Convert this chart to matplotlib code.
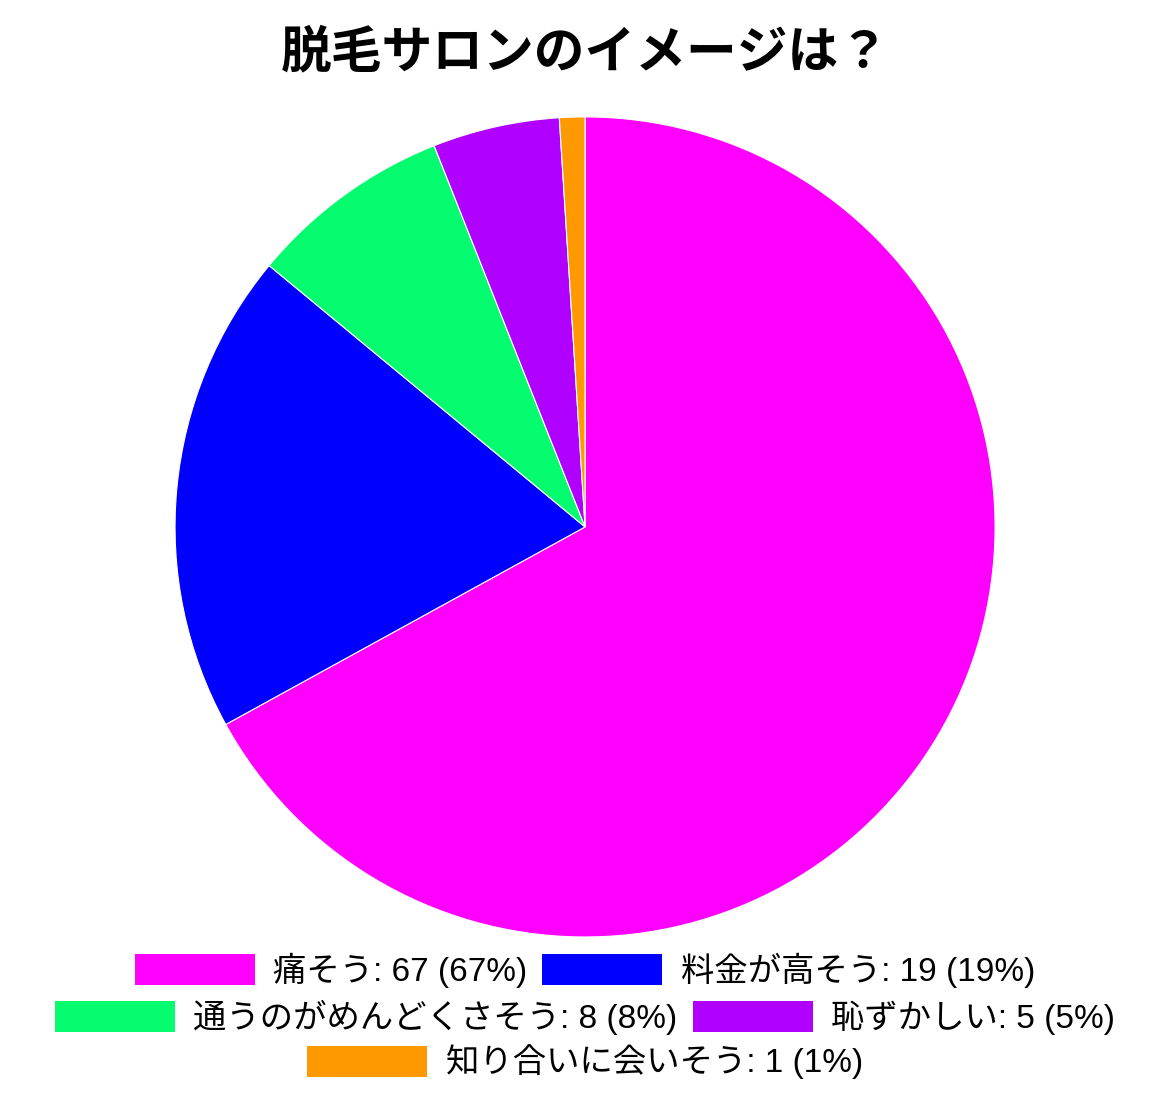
import matplotlib
matplotlib.use("Agg")
import matplotlib.pyplot as plt
from matplotlib.patches import Rectangle

# Latin glyphs from Liberation Sans, Japanese falls through to Noto CJK
plt.rcParams['font.family'] = ['Liberation Sans', 'Noto Sans CJK JP', 'DejaVu Sans']

# ---------------- DATA ----------------
title = "脱毛サロンのイメージは？"
labels = ["痛そう", "料金が高そう", "通うのがめんどくさそう", "恥ずかしい", "知り合いに会いそう"]
counts = [67, 19, 8, 5, 1]
colors = ["#FF00FF", "#0000FF", "#05FC6E", "#B000FF", "#FF9900"]
rows = [[0, 1], [2, 3], [4]]

total = sum(counts)

# ---------------- FIGURE ----------------
fig = plt.figure(figsize=(11.7, 11.04), dpi=100)
ax = fig.add_axes([0.1496, 0.1513, 0.7009, 0.7428])
ax.pie(counts, colors=colors, startangle=90, counterclock=False,
       wedgeprops=dict(edgecolor="white", linewidth=0.8))
ax.set_xlim(-1, 1)
ax.set_ylim(-1, 1)
ax.set_aspect("equal")

fig.text(0.5, 0.951, title, ha="center", va="center",
         fontsize=36.5, fontweight="bold")

# ---------------- LEGEND (flow layout, three rows) ----------------
row_y = [0.1214, 0.0788, 0.038]
for idx, y in zip(rows, row_y):
    handles = [Rectangle((0, 0), 1, 1, facecolor=colors[i], edgecolor="none") for i in idx]
    texts = [f"{labels[i]}: {counts[i]} ({round(counts[i] * 100 / total)}%)" for i in idx]
    fig.legend(handles, texts, loc="center", bbox_to_anchor=(0.5, y),
               ncol=len(idx), frameon=False, fontsize=24,
               handlelength=3.6, handleheight=1.05, handletextpad=0.55,
               columnspacing=0.45, borderpad=0, borderaxespad=0)

fig.savefig("out.png", dpi=100)
